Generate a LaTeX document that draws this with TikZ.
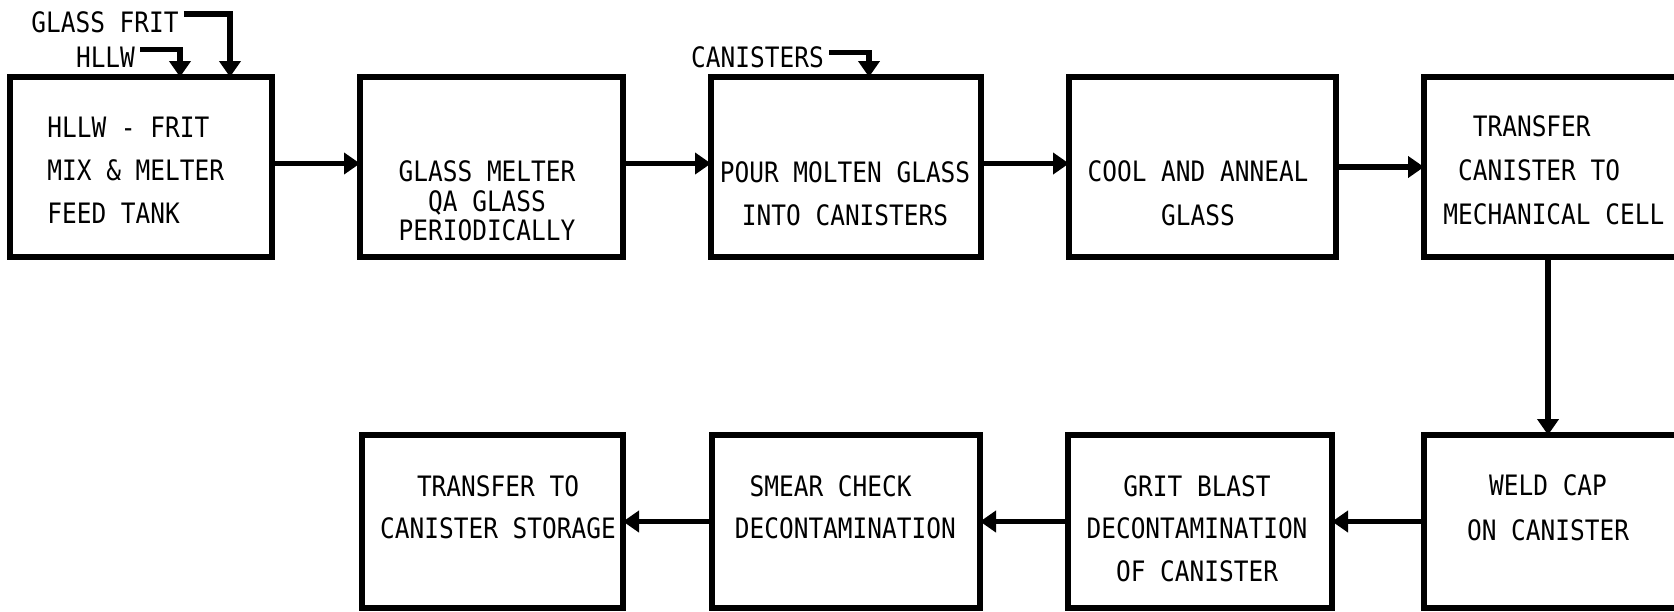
\documentclass[tikz,border=0pt]{standalone}
\usepackage{fontspec}
\usepackage{tikz}
\usetikzlibrary{arrows.meta,calc,positioning}
\newfontfamily\boxfont[FakeStretch=0.87]{DejaVu Sans Mono}
\tikzset{
  flow/.style={-{Triangle[length=3.2mm,width=4.2mm]},line width=3.1pt},
  stage/.style={draw,line width=3.1pt,inner sep=0pt,outer sep=0pt,minimum height=3.6cm},
  caption/.style={font={\boxfont\fontsize{16pt}{#1}\selectfont},align=center,inner sep=0pt},
  feedlabel/.style={font={\boxfont\fontsize{16pt}{19pt}\selectfont},inner xsep=1mm,inner ysep=0pt}
}

\begin{document}
\begin{tikzpicture}[x=0.2mm,y=-0.2mm,node distance=3.56cm and 1.76cm]
  \useasboundingbox (0,0) rectangle (1674,611);
  \clip (0,0) rectangle (1674,611);

  % top row, left to right
  \node[stage,minimum width=5.24cm] (mix) at (141,167) {};
  \node[stage,minimum width=5.26cm,right=of mix] (melter) {};
  \node[stage,minimum width=5.4cm,right=of melter] (pour) {};
  \node[stage,minimum width=5.34cm,right=of pour] (cool) {};
  \node[stage,minimum width=5.36cm,right=of cool] (transfer) {};

  % bottom row, right to left
  \node[stage,minimum width=5.36cm,minimum height=3.46cm,below=of transfer] (weld) {};
  \node[stage,minimum width=5.28cm,minimum height=3.46cm,left=1.84cm of weld] (grit) {};
  \node[stage,minimum width=5.36cm,minimum height=3.46cm,left=of grit] (smear) {};
  \node[stage,minimum width=5.22cm,minimum height=3.46cm,left=1.78cm of smear] (storage) {};

  \node[caption=24.5pt,align=left,anchor=west] (mixtxt) at ($(mix.west)+(37,3.5)$) {HLLW - FRIT\\MIX \& MELTER\\FEED TANK};
  \node[caption=16.8pt] (meltertxt) at ($(melter)+(-4.5,34)$) {GLASS MELTER\\QA GLASS\\PERIODICALLY};
  \node[caption=24.5pt] (pourtxt) at ($(pour)+(-1,26.5)$) {POUR MOLTEN GLASS\\INTO CANISTERS};
  \node[caption=25pt] (cooltxt) at ($(cool)+(-4.5,26)$) {COOL AND ANNEAL\\GLASS};
  \node[caption=25pt,align=left,anchor=west] (transfertxt) at ($(transfer.west)+(19,3.5)$) {\phantom{MM}TRANSFER\\\phantom{M}CANISTER TO\\MECHANICAL CELL};
  \node[caption=25.6pt] (weldtxt) at ($(weld)+(-10,-14)$) {WELD CAP\\ON CANISTER};
  \node[caption=24.2pt] (grittxt) at ($(grit)+(-3,7)$) {GRIT BLAST\\DECONTAMINATION\\OF CANISTER};
  \node[caption=23.9pt,align=left,anchor=west] (smeartxt) at ($(smear.west)+(22.5,-14.5)$) {\phantom{M}SMEAR CHECK\\DECONTAMINATION};
  \node[caption=23.9pt] (storagetxt) at ($(storage)+(5.5,-14.5)$) {TRANSFER TO\\CANISTER STORAGE};

  % feeds
  \node[feedlabel] (frit) at (105,22) {GLASS FRIT};
  \node[feedlabel] (hllw) at (105.5,57) {HLLW};
  \node[feedlabel] (cans) at (757.5,57.5) {CANISTERS};

  \draw[flow] ([yshift=-0.6mm]frit.north east) -| ($(mix.north west)+(220,0)$);
  \draw[flow] ([yshift=-0.6mm]hllw.north east) -| ($(mix.north west)+(170,0)$);
  \draw[flow] ([yshift=1mm]cans.east) -| ($(pour.north west)+(158,0)$);

  \draw[flow] ([yshift=0.7mm]mix.east) -- ([yshift=0.7mm]melter.west);
  \draw[flow] ([yshift=0.7mm]melter.east) -- ([yshift=0.7mm]pour.west);
  \draw[flow] ([yshift=0.7mm]pour.east) -- ([yshift=0.7mm]cool.west);
  \draw[flow] (cool.east) -- (transfer.west);
  \draw[flow] ([xshift=-2mm]transfer.south) -- ([xshift=-2mm]weld.north);
  \draw[flow] (weld.west) -- (grit.east);
  \draw[flow] (grit.west) -- (smear.east);
  \draw[flow] (smear.west) -- (storage.east);
\end{tikzpicture}
\end{document}
